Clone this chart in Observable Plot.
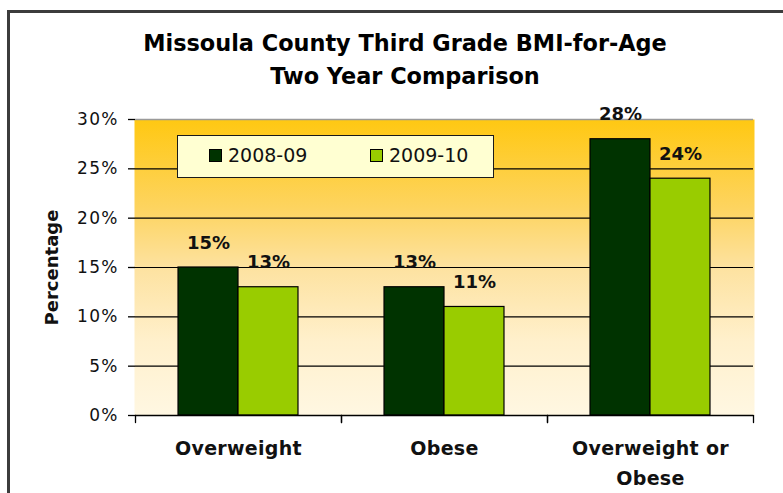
<!DOCTYPE html>
<html>
<head>
<meta charset="utf-8">
<script src="https://cdn.jsdelivr.net/npm/d3@7"></script>
<script src="https://cdn.jsdelivr.net/npm/@observablehq/plot@0.6"></script>
<style>
  html, body { margin: 0; padding: 0; background: #fff; }
  #wrap { position: relative; width: 783px; height: 493px; overflow: hidden; font-family: "DejaVu Sans", sans-serif; }
  #border { position: absolute; left: 7px; top: 10px; width: 820px; height: 540px; border: 3px solid #3c3c3c; box-sizing: border-box; }
  #title { position: absolute; left: 105px; top: 27px; width: 600px; text-align: center; font-weight: bold; font-size: 22.4px; line-height: 33px; color: #000; }
  #legend { position: absolute; left: 177px; top: 135px; width: 317px; height: 43px; box-sizing: border-box; border: 1.5px solid #1a1a1a; background: #ffffd2; }
  .sw { position: absolute; top: 13px; width: 13px; height: 13px; box-sizing: border-box; border: 1px solid #000; }
  .lt { position: absolute; top: 10px; font-size: 19px; line-height: 19px; color: #111; }
  svg g[aria-label="y-axis tick label"] text { letter-spacing: 1.2px; }
  svg g[aria-label="fx-axis tick label"] text { letter-spacing: 0.3px; }
</style>
</head>
<body>
<div id="wrap">
  <div id="chart"></div>
  <div id="border"></div>
  <div id="title"></div>
  <div id="legend"></div>
</div>
<script>
const categories = ["Overweight", "Obese", "Overweight or Obese"];
const years = ["2008-09", "2009-10"];
const values0809 = [15, 13, 28];
const values0910 = [13, 11, 24];
const yTicks = [0, 5, 10, 15, 20, 25, 30];
const seriesColors = ["#003300", "#99cc00"];
const titleLines = ["Missoula County Third Grade BMI-for-Age", "Two Year Comparison"];
const yLabel = "Percentage";

const data = categories.flatMap((c, i) => [
  {category: c, year: years[0], value: values0809[i]},
  {category: c, year: years[1], value: values0910[i]}
]);

const tickShape = {draw(ctx, l) { ctx.moveTo(0, 0); ctx.lineTo(0, -l); }};

const chart = Plot.plot({
  width: 783,
  height: 493,
  marginLeft: 135,
  marginRight: 30,
  marginTop: 119,
  marginBottom: 78,
  style: {fontFamily: "DejaVu Sans, sans-serif", fontSize: "17px", color: "#111", background: "transparent", overflow: "visible"},
  fx: {domain: categories, padding: 0, label: null, round: false},
  x: {domain: years, paddingInner: 0, paddingOuter: 0.717, axis: null, round: false},
  y: {domain: [0, 30], label: null},
  color: {domain: years, range: seriesColors},
  marks: [
    Plot.frame({fill: "url(#bgGrad)", stroke: "none", insetLeft: -1, insetRight: -1}),
    Plot.ruleY(yTicks.slice(1, -1), {stroke: "#000", strokeWidth: 1.2}),
    Plot.ruleY([yTicks[yTicks.length - 1]], {stroke: "#9a9a9a", strokeWidth: 1.5}),
    Plot.axisY({anchor: "right", ticks: [], line: true, stroke: "#9a9a9a", strokeWidth: 1.5, label: null}),
    Plot.barY(data, {fx: "category", x: "year", y: "value", fill: "year", stroke: "#000", strokeWidth: 1.2}),
    Plot.text(data, {fx: "category", x: "year", y: "value", text: d => d.value + "%", lineAnchor: "bottom", dy: -19, fontWeight: "bold", fontSize: 18, fill: "#111"}),
    Plot.ruleY([0], {stroke: "#000", strokeWidth: 1.5}),
    Plot.vector([0], {frameAnchor: "bottom-left", length: 7, rotate: 180, anchor: "start", shape: tickShape, stroke: "#000", strokeWidth: 1.3}),
    Plot.vector([0], {frameAnchor: "bottom-right", length: 7, rotate: 180, anchor: "start", shape: tickShape, stroke: "#000", strokeWidth: 1.3}),
    Plot.axisY({
      anchor: "left", ticks: yTicks, tickFormat: d => d + "%", tickSize: 7, tickPadding: 10,
      line: true, stroke: "#000", strokeWidth: 1.3, fontSize: 17, fill: "#111",
      label: yLabel, labelAnchor: "center", labelArrow: "none", labelOffset: 90
    }),
    Plot.axisFx({
      anchor: "bottom", tickSize: 0, tickPadding: 18, fontWeight: "bold", fontSize: 19, fill: "#111",
      lineHeight: 1.58, tickFormat: d => d.replace(" or ", " or\n"), label: null
    })
  ]
});

// vertical background gradient shared by each facet frame
const defs = document.createElementNS("http://www.w3.org/2000/svg", "defs");
defs.innerHTML = `<linearGradient id="bgGrad" x1="0" y1="0" x2="0" y2="1">
  <stop offset="0" stop-color="#ffc812"/>
  <stop offset="0.3" stop-color="#fdd460"/>
  <stop offset="0.5" stop-color="#fde2a0"/>
  <stop offset="0.75" stop-color="#fff0cc"/>
  <stop offset="1" stop-color="#fff7e2"/>
</linearGradient>`;
chart.prepend(defs);

// style the y-axis label
chart.querySelectorAll('g[aria-label="y-axis label"] text').forEach(t => {
  t.setAttribute("font-weight", "bold");
  t.setAttribute("font-size", "18");
  t.setAttribute("fill", "#111");
});

document.getElementById("chart").appendChild(chart);

// title
const title = document.getElementById("title");
titleLines.forEach(line => { const d = document.createElement("div"); d.textContent = line; title.appendChild(d); });

// legend
const legend = document.getElementById("legend");
const swLeft = [31, 192];
years.forEach((y, i) => {
  const sw = document.createElement("div");
  sw.className = "sw";
  sw.style.left = swLeft[i] + "px";
  sw.style.background = seriesColors[i];
  legend.appendChild(sw);
  const t = document.createElement("div");
  t.className = "lt";
  t.style.left = (swLeft[i] + 19) + "px";
  t.textContent = y;
  legend.appendChild(t);
});
</script>
</body>
</html>
